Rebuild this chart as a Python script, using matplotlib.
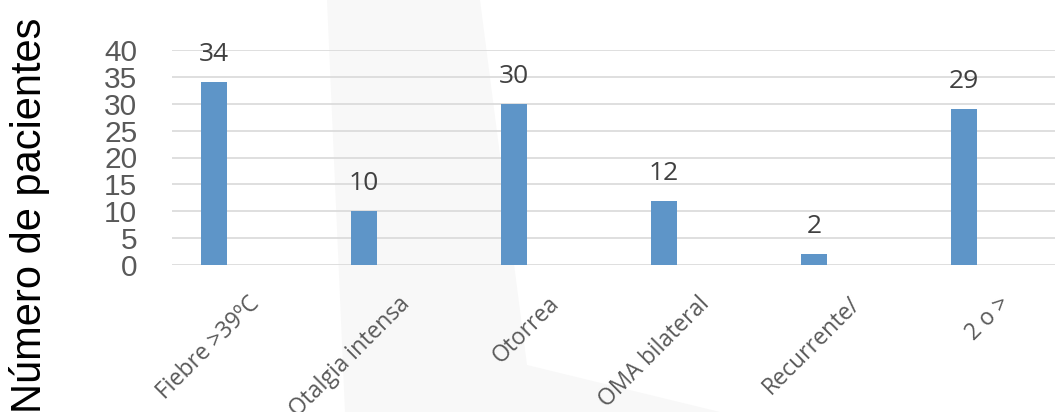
import matplotlib.pyplot as plt
from matplotlib.patches import Polygon

# datos
categorias = ['Fiebre >39ºC', 'Otalgia intensa', 'Otorrea', 'OMA bilateral', 'Recurrente/', '2 o >']
pacientes = [34, 10, 30, 12, 2, 29]
ticks_y = [0, 5, 10, 15, 20, 25, 30, 35, 40]

W, H = 1055, 412
fig = plt.figure(figsize=(W / 100, H / 100), dpi=100)

# marca de agua gris muy suave del fondo
wm = [(327, 0), (480, 0), (527, 365), (720, 412), (345, 412)]
fig.patches.append(Polygon([(x / W, 1 - y / H) for x, y in wm], closed=True,
                           transform=fig.transFigure, facecolor='#f8f8f8',
                           edgecolor='none', zorder=-5))

ax = fig.add_axes([172 / W, 147 / H, (W - 172) / W, 215 / H])
ax.set_facecolor('none')

x = list(range(len(categorias)))
bars = ax.bar(x, pacientes, width=0.175, color='#5e95c8', zorder=3)

ax.set_ylim(0, 40)
ax.set_xlim(-0.28, 5.607)
ax.set_yticks(ticks_y)
ax.set_yticklabels([str(t) for t in ticks_y], family='Liberation Sans',
                   fontsize=21.5, color='#595959')
ax.tick_params(axis='y', length=0, pad=25)
ax.set_xticks([])

for t in ticks_y:
    ax.axhline(t, color='#d9d9d9', lw=1.2, zorder=1)

for s in ax.spines.values():
    s.set_visible(False)

# etiquetas de datos
for xi, v in zip(x, pacientes):
    ax.annotate(str(v), (xi, v), xytext=(0, 15), textcoords='offset points',
                ha='center', va='baseline', family='Open Sans',
                fontsize=19, color='#404040')

# etiquetas de categorías giradas
for xi, c in zip(x, categorias):
    ax.text(xi + 0.225, -0.125, c, transform=ax.get_xaxis_transform(),
            rotation=45, rotation_mode='anchor', ha='right', va='top',
            family='Open Sans', fontsize=16.5, color='#595959')

fig.text(0.028, 0.478, 'Número de pacientes', rotation=90, ha='center',
         va='center', family='Liberation Sans', fontsize=30, color='black')

fig.savefig('out.png', dpi=100)
